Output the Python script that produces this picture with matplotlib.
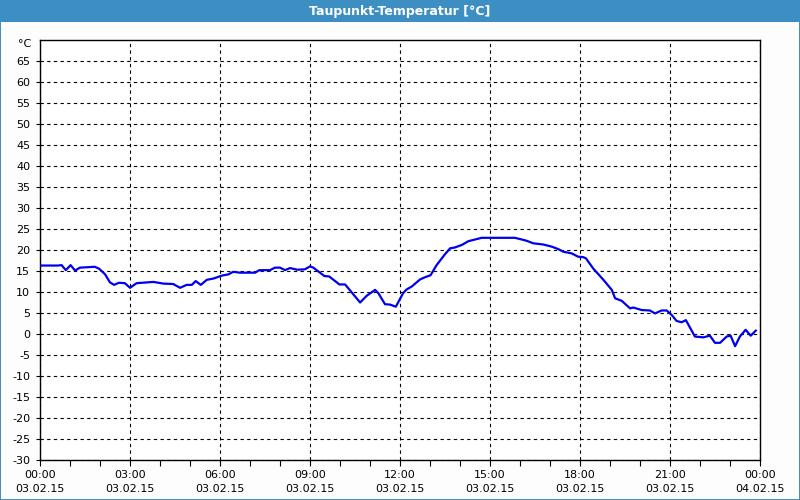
import matplotlib.pyplot as plt
from matplotlib.patches import Rectangle

# hours since 03.02.15 00:00 and dew point in degC
hours = [0.0, 0.6, 0.72, 0.86, 1.02, 1.17, 1.33, 1.83, 1.98, 2.17, 2.33, 2.47,
         2.63, 2.83, 3.0, 3.22, 3.78, 4.11, 4.44, 4.67, 4.89, 5.06, 5.19, 5.36,
         5.56, 5.78, 5.94, 6.06, 6.28, 6.44, 6.67, 7.17, 7.31, 7.67, 7.83, 8.0,
         8.17, 8.33, 8.58, 8.83, 9.0, 9.11, 9.48, 9.64, 9.98, 10.17, 10.67,
         10.89, 11.17, 11.28, 11.5, 11.67, 11.86, 12.11, 12.22, 12.39, 12.67,
         12.83, 13.02, 13.22, 13.5, 13.67, 13.83, 14.06, 14.28, 14.56, 14.72,
         15.83, 16.06, 16.22, 16.44, 16.78, 17.06, 17.28, 17.44, 17.72, 17.94,
         18.11, 18.2, 18.44, 18.78, 19.06, 19.17, 19.39, 19.67, 19.78, 20.06,
         20.33, 20.5, 20.72, 20.89, 21.06, 21.22, 21.39, 21.53, 21.83, 22.11,
         22.33, 22.5, 22.67, 22.89, 23.02, 23.17, 23.33, 23.52, 23.69, 23.86]
dewpoint = [16.3, 16.3, 16.4, 15.2, 16.4, 15.1, 15.8, 16.0, 15.5, 14.2, 12.3,
            11.7, 12.2, 12.1, 11.0, 12.1, 12.4, 12.0, 11.9, 11.0, 11.7, 11.7,
            12.6, 11.7, 12.9, 13.2, 13.6, 13.9, 14.2, 14.8, 14.6, 14.6, 15.2,
            15.2, 15.8, 15.8, 15.2, 15.7, 15.3, 15.4, 16.1, 15.8, 13.8, 13.7,
            11.8, 11.8, 7.5, 9.1, 10.5, 9.7, 7.1, 7.0, 6.5, 9.8, 10.6, 11.3,
            13.0, 13.5, 14.0, 16.4, 19.0, 20.4, 20.6, 21.2, 22.1, 22.6, 22.9,
            22.9, 22.5, 22.2, 21.6, 21.3, 20.8, 20.2, 19.6, 19.2, 18.4, 18.3,
            18.0, 15.6, 12.9, 10.5, 8.5, 7.9, 6.1, 6.3, 5.7, 5.6, 4.9, 5.6, 5.6,
            4.5, 3.1, 2.8, 3.3, -0.6, -0.8, -0.4, -2.1, -2.1, -0.6, -0.4, -2.9,
            -0.6, 1.0, -0.4, 0.8]

tick_hours = [0, 3, 6, 9, 12, 15, 18, 21, 24]
tick_labels = ["00:00\n03.02.15", "03:00\n03.02.15", "06:00\n03.02.15",
               "09:00\n03.02.15", "12:00\n03.02.15", "15:00\n03.02.15",
               "18:00\n03.02.15", "21:00\n03.02.15", "00:00\n04.02.15"]
y_ticks = list(range(-30, 70, 5))
y_labels = [str(v) for v in y_ticks]

title_blue = "#3d8fc3"

fig = plt.figure(figsize=(8, 5), dpi=100, facecolor="#fcfdfc")
ax = fig.add_axes([0.05, 0.08, 0.90, 0.84])

# title bar and window frame
fig.patches.append(Rectangle((0, 1 - 22 / 500), 1, 22 / 500, transform=fig.transFigure,
                             facecolor=title_blue, edgecolor="none", zorder=0))
fig.patches.append(Rectangle((0.0006, 0.001), 0.9988, 0.998, transform=fig.transFigure,
                             facecolor="none", edgecolor=title_blue, linewidth=1.4, zorder=0))
fig.text(0.5, 1 - 11 / 500, "Taupunkt-Temperatur [°C]", color="white",
         fontsize=9, fontweight="bold", ha="center", va="center")

ax.plot(hours, dewpoint, color="#0000f0", linewidth=1.6, zorder=3)

ax.set_xlim(0, 24)
ax.set_ylim(-30, 70)
ax.set_xticks(tick_hours)
ax.set_xticklabels(tick_labels, fontsize=8, linespacing=1.55)
ax.set_xticks(range(25), minor=True)
ax.set_yticks(y_ticks)
ax.set_yticklabels(y_labels, fontsize=8)
# unit label above the y axis
ax.text(-0.012, 69, "°C", transform=ax.get_yaxis_transform(), fontsize=8,
        ha="right", va="center")

ax.tick_params(axis="both", which="both", direction="out", length=4, width=0.8, pad=3)
ax.tick_params(axis="y", length=3, pad=4)
ax.tick_params(axis="x", which="major", pad=3)

ax.grid(True, which="major", color="black", linestyle=(0, (3, 3)), linewidth=0.8)
for s in ax.spines.values():
    s.set_color("black")
    s.set_linewidth(1.0)

fig.savefig("out.png", dpi=100, facecolor=fig.get_facecolor())
